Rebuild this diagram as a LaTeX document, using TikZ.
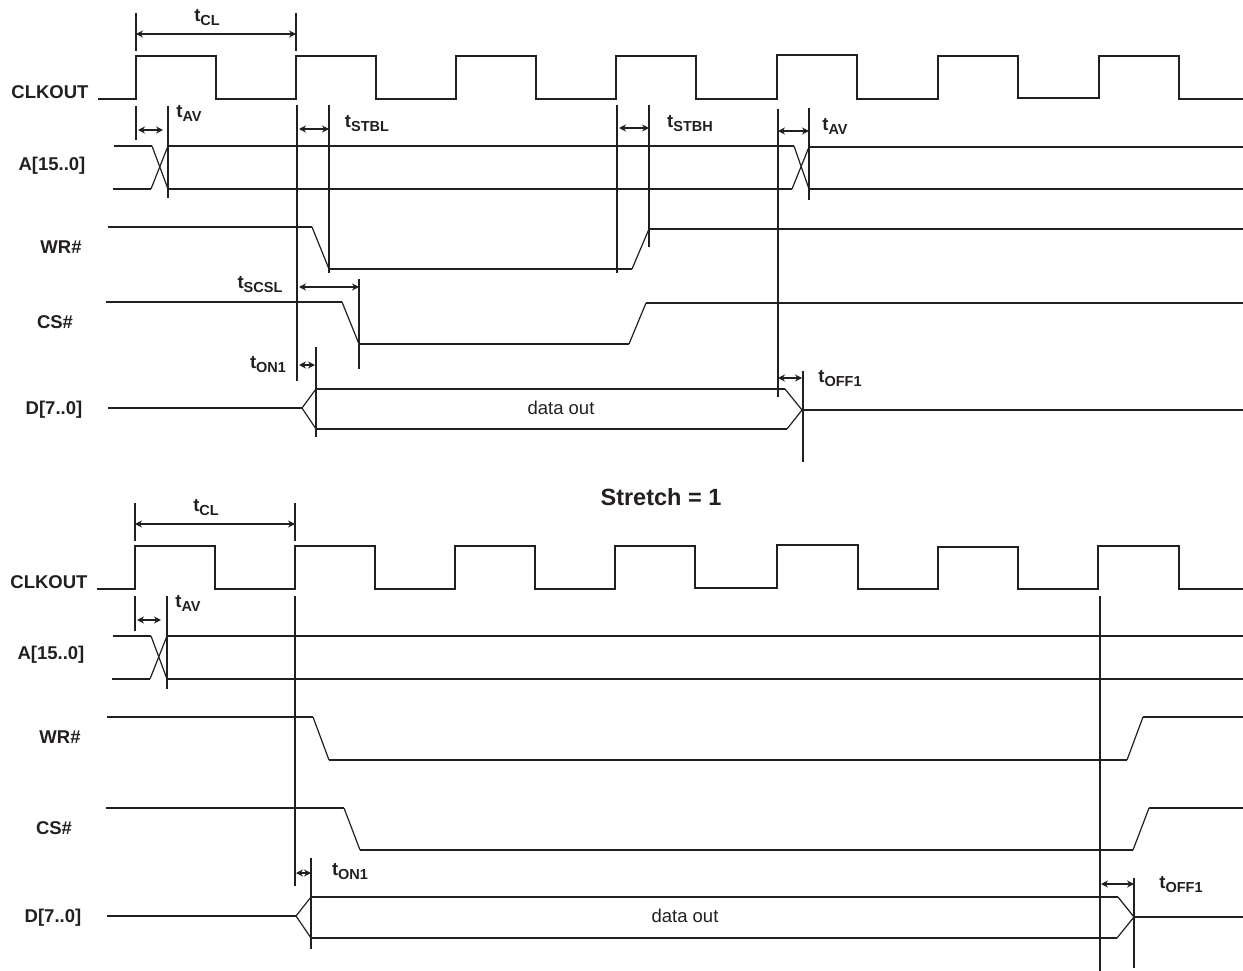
\documentclass[tikz,border=0pt]{standalone}
\usepackage{fontspec}
\setmainfont{Liberation Sans}
\usetikzlibrary{arrows.meta}
\definecolor{ink}{HTML}{231F20}
\newcommand{\tsub}[1]{t\raisebox{-4pt}{\fontsize{14.5}{15}\selectfont #1}}

\tikzset{
    wave/.style={ink, line width=1.9pt, line join=miter},
    slope/.style={ink, line width=1.2pt},
    tick/.style={ink, line width=1.9pt},
    span/.style={ink, line width=1.5pt, {Stealth[length=7pt,width=7pt]}-{Stealth[length=7pt,width=7pt]}},
    signal/.style={ink, font=\fontsize{18.5}{19}\selectfont\bfseries},
    timing/.style={ink, font=\fontsize{18.5}{20}\selectfont\bfseries},
}

\begin{document}
\begin{tikzpicture}[x=1pt, y=-1pt]
    \useasboundingbox (0,0) rectangle (1243,971);

%upper diagram
    \node[signal] (ClkA) at (50,92) {CLKOUT};
    \node[signal] (AddrA) at (52,166) {A[15..0]};
    \node[signal] (WrA) at (61,247) {WR\#};
    \node[signal] (CsA) at (55,322) {CS\#};
    \node[signal] (DataA) at (54,410) {D[7..0]};

    \draw[wave] (98,99) -- (136,99) -- (136,56) -- (216,56) -- (216,99) -- (296,99) -- (296,56) -- (376,56) -- (376,99) -- (456,99) -- (456,56) -- (536,56) -- (536,99) -- (616,99) -- (616,56) -- (696,56) -- (696,99) -- (777,99) -- (777,55) -- (857,55) -- (857,99) -- (938,99) -- (938,56) -- (1018,56) -- (1018,98) -- (1099,98) -- (1099,56) -- (1179,56) -- (1179,99) -- (1243,99);

    \draw[wave] (114,146) -- (152,146);
    \draw[wave] (113,189) -- (151,189);
    \draw[slope] (152,146) -- (168,189);
    \draw[slope] (151,189) -- (168,146);
    \draw[wave] (168,146) -- (794,146);
    \draw[wave] (168,189) -- (792,189);
    \draw[slope] (794,146) -- (809,189);
    \draw[slope] (792,189) -- (809,147);
    \draw[wave] (809,147) -- (1243,147);
    \draw[wave] (809,189) -- (1243,189);

    \draw[wave] (108,227) -- (312,227);
    \draw[slope] (312,227) -- (329,269);
    \draw[wave] (329,269) -- (632,269);
    \draw[slope] (632,269) -- (649,229);
    \draw[wave] (649,229) -- (1243,229);

    \draw[wave] (106,302) -- (342,302);
    \draw[slope] (342,302) -- (359,344);
    \draw[wave] (359,344) -- (629,344);
    \draw[slope] (629,344) -- (646,303);
    \draw[wave] (646,303) -- (1243,303);

    \draw[wave] (108,408) -- (302,408);
    \draw[slope] (302,408) -- (316,389);
    \draw[slope] (302,408) -- (316,429);
    \draw[wave] (316,389) -- (785,389);
    \draw[wave] (316,429) -- (787,429);
    \draw[slope] (785,389) -- (802,410);
    \draw[slope] (787,429) -- (802,410);
    \draw[wave] (802,410) -- (1243,410);
    \node[ink, font=\fontsize{18.5}{20}\selectfont] (OutA) at (561,408) {data out};

    \draw[tick] (136,13) -- (136,51);
    \draw[tick] (296,13) -- (296,51);
    \draw[tick] (136,106) -- (136,140);
    \draw[tick] (168,106) -- (168,198);
    \draw[tick] (297,105) -- (297,381);
    \draw[tick] (329,105) -- (329,273);
    \draw[tick] (617,105) -- (617,273);
    \draw[tick] (649,105) -- (649,247);
    \draw[tick] (778,109) -- (778,397);
    \draw[tick] (809,108) -- (809,200);
    \draw[tick] (359,279) -- (359,369);
    \draw[tick] (316,347) -- (316,437);
    \draw[tick] (803,371) -- (803,462);

    \coordinate (ClA1) at (136,34);
    \coordinate (ClA2) at (296,34);
    \coordinate (AvA1) at (138,130);
    \coordinate (AvA2) at (163,130);
    \coordinate (StlA1) at (299,129);
    \coordinate (StlA2) at (329,129);
    \coordinate (SthA1) at (619,128);
    \coordinate (SthA2) at (649,128);
    \coordinate (AvB1) at (778,131);
    \coordinate (AvB2) at (809,131);
    \coordinate (ScsA1) at (299,287);
    \coordinate (ScsA2) at (359,287);
    \coordinate (OnA1) at (299,365);
    \coordinate (OnA2) at (315,365);
    \coordinate (OffA1) at (778,378);
    \coordinate (OffA2) at (802,378);

    \draw[span] (ClA1) -- (ClA2);
    \draw[span] (AvA1) -- (AvA2);
    \draw[span] (StlA1) -- (StlA2);
    \draw[span] (SthA1) -- (SthA2);
    \draw[span] (AvB1) -- (AvB2);
    \draw[span] (ScsA1) -- (ScsA2);
    \draw[span] (OnA1) -- (OnA2);
    \draw[span] (OffA1) -- (OffA2);

    \node[timing] (TclA) at (207,18) {\tsub{CL}};
    \node[timing] (TavA) at (189,113) {\tsub{AV}};
    \node[timing] (TstlA) at (367,124) {\tsub{STBL}};
    \node[timing] (TsthA) at (690,124) {\tsub{STBH}};
    \node[timing] (TavB) at (835,126) {\tsub{AV}};
    \node[timing] (TscsA) at (260,285) {\tsub{SCSL}};
    \node[timing] (TonA) at (268,365) {\tsub{ON1}};
    \node[timing] (ToffA) at (840,379) {\tsub{OFF1}};

    \node[ink, font=\fontsize{23.5}{25}\selectfont\bfseries] (Stretch) at (661,497) {Stretch = 1};

%lower diagram
    \node[signal] (ClkB) at (49,582) {CLKOUT};
    \node[signal] (AddrB) at (51,655) {A[15..0]};
    \node[signal] (WrB) at (60,737) {WR\#};
    \node[signal] (CsB) at (54,828) {CS\#};
    \node[signal] (DataB) at (53,918) {D[7..0]};

    \draw[wave] (97,589) -- (135,589) -- (135,546) -- (215,546) -- (215,589) -- (295,589) -- (295,546) -- (375,546) -- (375,589) -- (455,589) -- (455,546) -- (535,546) -- (535,589) -- (615,589) -- (615,546) -- (695,546) -- (695,588) -- (777,588) -- (777,545) -- (858,545) -- (858,589) -- (938,589) -- (938,547) -- (1018,547) -- (1018,589) -- (1098,589) -- (1098,546) -- (1179,546) -- (1179,589) -- (1243,589);

    \draw[wave] (113,636) -- (151,636);
    \draw[wave] (112,679) -- (150,679);
    \draw[slope] (151,636) -- (167,679);
    \draw[slope] (150,679) -- (167,636);
    \draw[wave] (167,636) -- (1243,636);
    \draw[wave] (167,679) -- (1243,679);

    \draw[wave] (107,717) -- (313,717);
    \draw[slope] (313,717) -- (329,760);
    \draw[wave] (329,760) -- (1127,760);
    \draw[slope] (1127,760) -- (1143,717);
    \draw[wave] (1143,717) -- (1243,717);

    \draw[wave] (106,808) -- (344,808);
    \draw[slope] (344,808) -- (360,850);
    \draw[wave] (360,850) -- (1133,850);
    \draw[slope] (1133,850) -- (1149,808);
    \draw[wave] (1149,808) -- (1243,808);

    \draw[wave] (107,916) -- (296,916);
    \draw[slope] (296,916) -- (311,897);
    \draw[slope] (296,916) -- (311,938);
    \draw[wave] (311,897) -- (1118,897);
    \draw[wave] (311,938) -- (1117,938);
    \draw[slope] (1118,897) -- (1134,917);
    \draw[slope] (1117,938) -- (1134,917);
    \draw[wave] (1134,917) -- (1243,917);
    \node[ink, font=\fontsize{18.5}{20}\selectfont] (OutB) at (685,916) {data out};

    \draw[tick] (135,503) -- (135,541);
    \draw[tick] (295,503) -- (295,541);
    \draw[tick] (135,596) -- (135,631);
    \draw[tick] (167,596) -- (167,689);
    \draw[tick] (295,596) -- (295,886);
    \draw[tick] (311,858) -- (311,949);
    \draw[tick] (1100,596) -- (1100,971);
    \draw[tick] (1134,878) -- (1134,968);

    \coordinate (ClB1) at (135,524);
    \coordinate (ClB2) at (295,524);
    \coordinate (AvC1) at (137,620);
    \coordinate (AvC2) at (161,620);
    \coordinate (OnB1) at (296,873);
    \coordinate (OnB2) at (311,873);
    \coordinate (OffB1) at (1101,884);
    \coordinate (OffB2) at (1134,884);

    \draw[span] (ClB1) -- (ClB2);
    \draw[span] (AvC1) -- (AvC2);
    \draw[span] (OnB1) -- (OnB2);
    \draw[span] (OffB1) -- (OffB2);

    \node[timing] (TclB) at (206,508) {\tsub{CL}};
    \node[timing] (TavC) at (188,603) {\tsub{AV}};
    \node[timing] (TonB) at (350,872) {\tsub{ON1}};
    \node[timing] (ToffB) at (1181,885) {\tsub{OFF1}};

\end{tikzpicture}
\end{document}
